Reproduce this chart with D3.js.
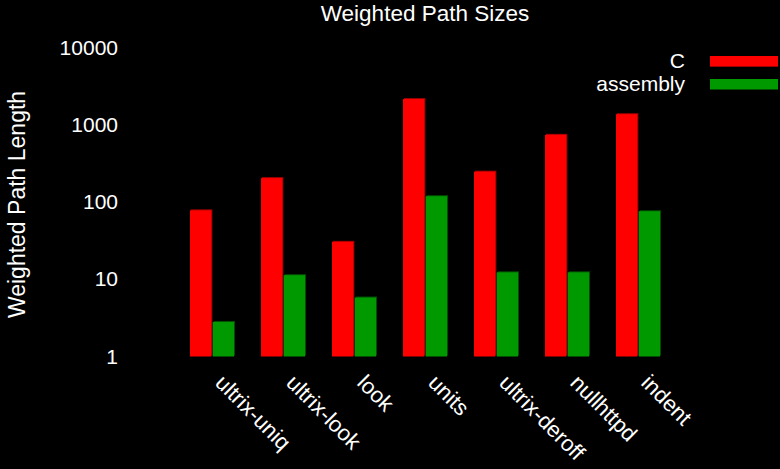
<!DOCTYPE html>
<html>
<head>
<meta charset="utf-8">
<script src="https://cdn.jsdelivr.net/npm/d3@7"></script>
<style>
  body { margin: 0; background: #000; }
  text { font-family: "Liberation Sans", Arial, sans-serif; fill: #fff; }
</style>
</head>
<body>
<div id="viz"></div>
<script>
// data
var PROGRAMS = ["ultrix-uniq", "ultrix-look", "look", "units", "ultrix-deroff", "nullhttpd", "indent"];
var SERIES = ["C", "assembly"];
var C_VALUES = [78, 204, 30.5, 2150, 247, 740, 1370];
var ASM_VALUES = [2.8, 11.3, 5.8, 119, 12.3, 12.3, 76];
var Y_TICKS = [1, 10, 100, 1000, 10000];
var COLORS = ["#ff0000", "#009900"];
var EDGES = ["#a00000", "#004f00"];

var W = 780, H = 469;

var svg = d3.select("#viz").append("svg")
    .attr("width", W)
    .attr("height", H);

svg.append("rect").attr("width", W).attr("height", H).attr("fill", "#000");

// scales
var y = d3.scaleLog().domain([1, 10000]).range([356.5, 47.5]);
var x = d3.scaleBand().domain(PROGRAMS).range([176.5, 673.5]).paddingInner(0);
var xs = d3.scaleBand().domain(SERIES)
    .range([x.bandwidth() / 2 - 22, x.bandwidth() / 2 + 22])
    .paddingInner(0.06);

// title
svg.append("text")
    .attr("x", 425).attr("y", 21)
    .attr("text-anchor", "middle")
    .style("font-size", "22.5px")
    .text("Weighted Path Sizes");

// y axis
var yAxis = svg.append("g")
    .attr("transform", "translate(118,0)")
    .call(d3.axisLeft(y).tickValues(Y_TICKS).tickSize(0).tickPadding(0).tickFormat(d3.format("d")));
yAxis.select(".domain").remove();
yAxis.selectAll("text")
    .attr("fill", "#fff")
    .style("font-size", "21px")
    .style("font-family", "Liberation Sans, Arial, sans-serif");

svg.append("text")
    .attr("transform", "translate(25,204.5) rotate(-90)")
    .attr("text-anchor", "middle")
    .style("font-size", "23px")
    .text("Weighted Path Length");

// bars
var rows = PROGRAMS.map(function(p, i) {
    return { name: p, values: [C_VALUES[i], ASM_VALUES[i]] };
});

var groups = svg.selectAll("g.grp")
    .data(rows)
    .enter().append("g")
    .attr("class", "grp")
    .attr("transform", function(d) { return "translate(" + x(d.name) + ",0)"; });

var cells = groups.selectAll("g.bar")
    .data(function(d) {
        return d.values.map(function(v, j) { return { s: SERIES[j], v: v, j: j }; });
    })
    .enter().append("g").attr("class", "bar");

// darker edge behind each bar
cells.append("rect")
    .attr("x", function(d) { return xs(d.s) + 1; })
    .attr("y", function(d) { return y(d.v) - 1; })
    .attr("width", xs.bandwidth())
    .attr("height", function(d) { return y(1) - y(d.v); })
    .attr("fill", function(d) { return EDGES[d.j]; });

cells.append("rect")
    .attr("x", function(d) { return xs(d.s); })
    .attr("y", function(d) { return y(d.v); })
    .attr("width", xs.bandwidth())
    .attr("height", function(d) { return y(1) - y(d.v); })
    .attr("fill", function(d) { return COLORS[d.j]; });

// x axis labels
var xAxis = svg.append("g")
    .attr("transform", "translate(0,382)")
    .call(d3.axisBottom(x).tickSize(0).tickPadding(0));
xAxis.select(".domain").remove();
xAxis.selectAll("text")
    .attr("fill", "#fff")
    .attr("x", 3).attr("y", 0).attr("dy", 0)
    .attr("text-anchor", "start")
    .attr("transform", "rotate(45)")
    .style("font-size", "22px")
    .style("font-family", "Liberation Sans, Arial, sans-serif");

// legend
var legend = svg.selectAll("g.leg")
    .data(SERIES)
    .enter().append("g")
    .attr("class", "leg")
    .attr("transform", function(d, i) { return "translate(0," + (61 + i * 23) + ")"; });

legend.append("text")
    .attr("x", 685).attr("y", 0).attr("dy", "0.35em")
    .attr("text-anchor", "end")
    .style("font-size", "21px")
    .text(function(d) { return d; });

legend.append("rect")
    .attr("x", 710).attr("y", -5).attr("width", 68).attr("height", 11)
    .attr("fill", function(d, i) { return EDGES[i]; });
legend.append("rect")
    .attr("x", 710).attr("y", -5).attr("width", 68).attr("height", 10)
    .attr("fill", function(d, i) { return COLORS[i]; });
</script>
</body>
</html>
